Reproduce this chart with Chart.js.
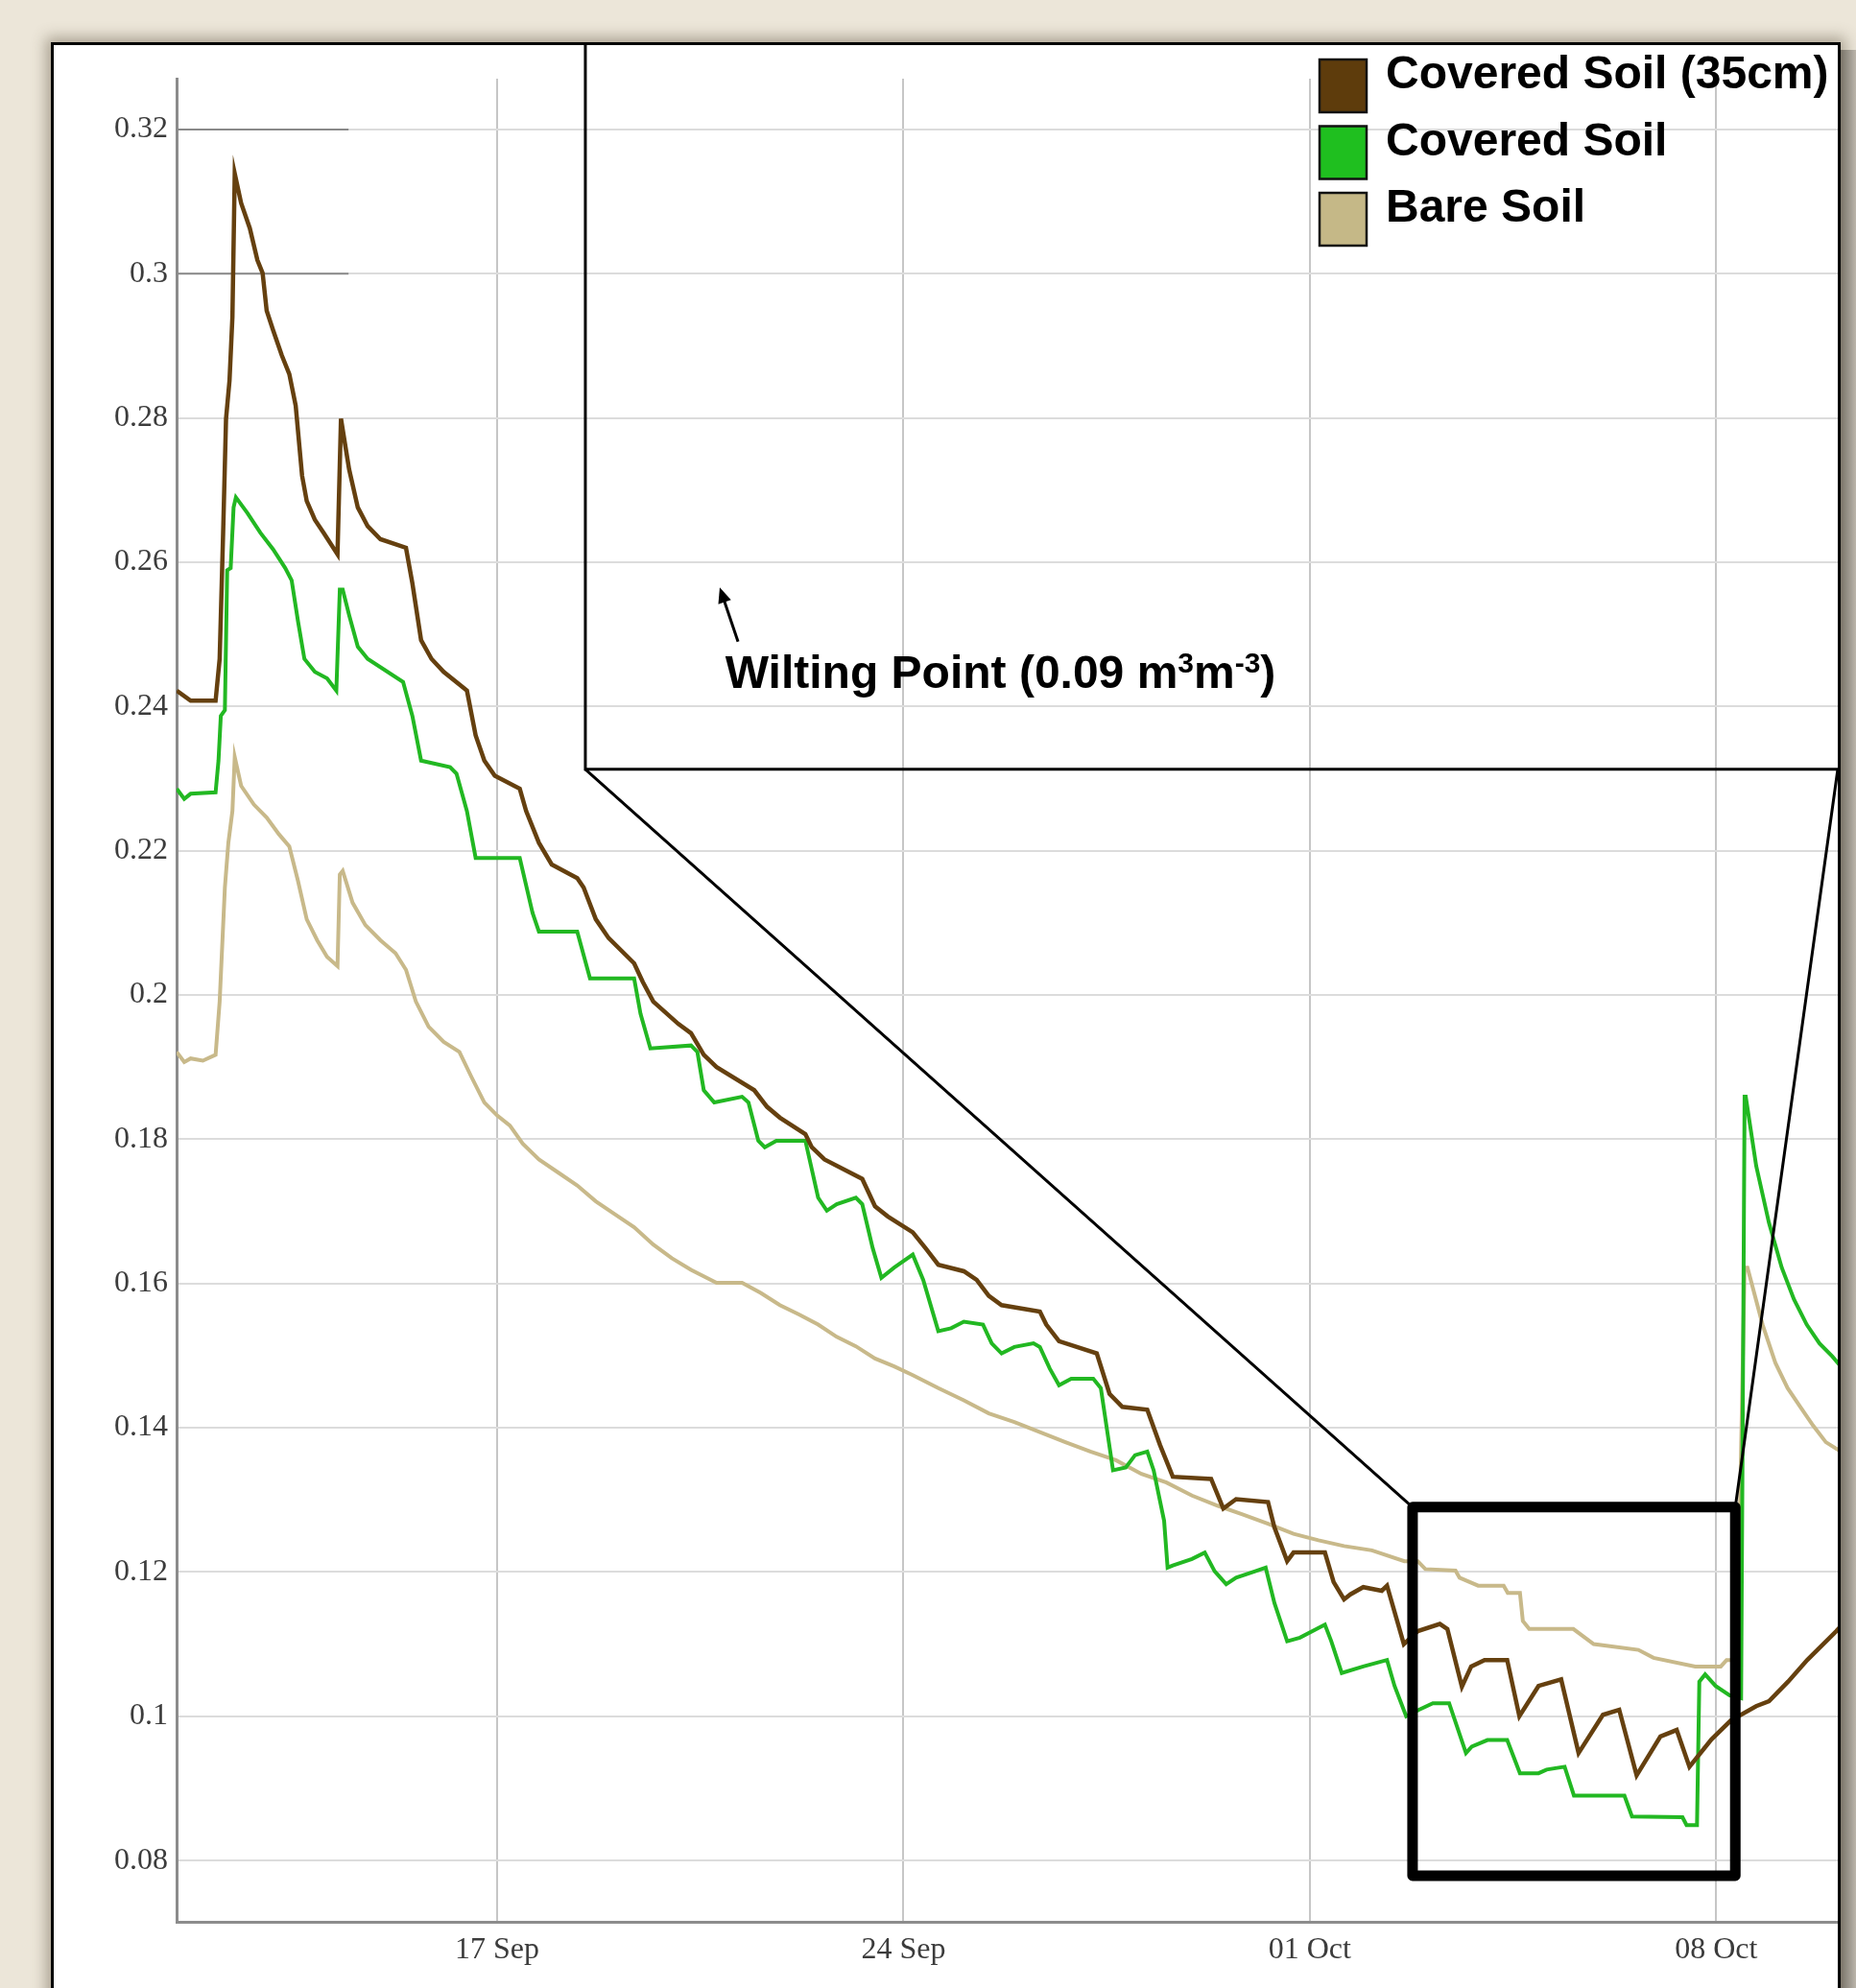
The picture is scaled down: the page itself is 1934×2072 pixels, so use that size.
<!DOCTYPE html>
<html>
<head>
<meta charset="utf-8">
<script src="https://cdn.jsdelivr.net/npm/chart.js@4.4.1/dist/chart.umd.min.js"></script>
<style>
  html, body { margin: 0; padding: 0; }
  body { width: 1934px; height: 2072px; overflow: hidden; background: #ece6d9; position: relative; }
  #frame {
    position: absolute; left: 53px; top: 44px; width: 1859px; height: 2100px;
    border: 3px solid #000; background: #fff;
    box-shadow: 0 0 14px 5px rgba(90, 80, 60, 0.45);
  }
  #edge {
    position: absolute; left: 1918px; top: 52px; width: 16px; height: 2030px;
    background: linear-gradient(to right, #8e8a83, #bdb8ae);
  }
  #soilChart { position: absolute; left: 0; top: 0; }
</style>
</head>
<body>
<div id="edge"></div>
<div id="frame"><canvas id="soilChart" width="1859" height="2025"></canvas></div>
<script>
document.addEventListener("DOMContentLoaded", function() {
    const seriesLabels = ['Covered Soil (35cm)', 'Covered Soil', 'Bare Soil'];
    const lineColors = ['#65400f', '#22b822', '#c8b98a'];
    const lineWidths = [4.5, 4, 4];
    const legendColors = ['#5e3c0c', '#1fbf1f', '#c5b887'];

    // x values are days counted from 1 Sep (01 Oct = 31)
    const xTickDays = [17, 24, 31, 38];
    const xTickLabels = ['17 Sep', '24 Sep', '01 Oct', '08 Oct'];
    const yTickValues = [0.08, 0.1, 0.12, 0.14, 0.16, 0.18, 0.2, 0.22, 0.24, 0.26, 0.28, 0.3, 0.32];

    const coveredSoil35 = [[11.48,0.2422],[11.72,0.2408],[12.15,0.2408],[12.22,0.2466],[12.28,0.2641],[12.33,0.2799],[12.39,0.2852],[12.44,0.2940],[12.48,0.3139],[12.59,0.3098],[12.74,0.3063],[12.87,0.3019],[12.96,0.3001],[13.03,0.2949],[13.14,0.2922],[13.29,0.2887],[13.42,0.2861],[13.53,0.2817],[13.64,0.2720],[13.72,0.2685],[13.86,0.2659],[14.01,0.2641],[14.25,0.2611],[14.31,0.2799],[14.45,0.2729],[14.60,0.2676],[14.77,0.2650],[14.99,0.2632],[15.43,0.2620],[15.54,0.2571],[15.69,0.2492],[15.87,0.2466],[16.08,0.2448],[16.48,0.2422],[16.63,0.2360],[16.78,0.2325],[16.96,0.2304],[17.39,0.2286],[17.50,0.2255],[17.72,0.2211],[17.94,0.2181],[18.38,0.2162],[18.49,0.2149],[18.70,0.2105],[18.92,0.2079],[19.36,0.2044],[19.51,0.2018],[19.69,0.1991],[20.12,0.1960],[20.34,0.1947],[20.56,0.1917],[20.78,0.1900],[21.43,0.1868],[21.65,0.1845],[21.87,0.1830],[22.31,0.1807],[22.42,0.1789],[22.64,0.1772],[23.29,0.1745],[23.51,0.1707],[23.73,0.1693],[24.16,0.1671],[24.38,0.1649],[24.60,0.1626],[25.04,0.1617],[25.26,0.1605],[25.47,0.1583],[25.69,0.1570],[26.35,0.1561],[26.46,0.1543],[26.68,0.1520],[27.33,0.1503],[27.55,0.1447],[27.77,0.1429],[28.20,0.1425],[28.42,0.1376],[28.64,0.1332],[29.30,0.1329],[29.51,0.1288],[29.73,0.1301],[30.28,0.1297],[30.39,0.1262],[30.61,0.1215],[30.72,0.1227],[31.26,0.1227],[31.41,0.1186],[31.59,0.1162],[31.70,0.1169],[31.92,0.1179],[32.24,0.1174],[32.33,0.1181],[32.62,0.1100],[32.86,0.1118],[33.24,0.1128],[33.37,0.1121],[33.62,0.1041],[33.78,0.1069],[34.01,0.1078],[34.40,0.1078],[34.61,0.1000],[34.94,0.1042],[35.33,0.1051],[35.63,0.0949],[36.05,0.1002],[36.33,0.1009],[36.63,0.0918],[37.04,0.0972],[37.32,0.0981],[37.54,0.0930],[37.92,0.0968],[38.25,0.0994],[38.69,0.1014],[38.91,0.1021],[39.24,0.1048],[39.57,0.1078],[40.07,0.1118],[40.15,0.1125]];

    const coveredSoil = [[11.48,0.2286],[11.61,0.2272],[11.72,0.2279],[12.15,0.2281],[12.20,0.2325],[12.24,0.2387],[12.31,0.2395],[12.35,0.2589],[12.41,0.2592],[12.46,0.2676],[12.50,0.2690],[12.70,0.2668],[12.92,0.2641],[13.14,0.2618],[13.35,0.2592],[13.46,0.2575],[13.57,0.2518],[13.68,0.2466],[13.86,0.2448],[14.07,0.2439],[14.23,0.2422],[14.29,0.2562],[14.34,0.2562],[14.45,0.2527],[14.60,0.2483],[14.77,0.2466],[15.38,0.2434],[15.54,0.2387],[15.69,0.2325],[16.19,0.2316],[16.30,0.2307],[16.48,0.2255],[16.63,0.2190],[17.39,0.2190],[17.61,0.2114],[17.72,0.2088],[18.38,0.2088],[18.60,0.2023],[19.36,0.2023],[19.47,0.1974],[19.64,0.1926],[20.34,0.1930],[20.45,0.1921],[20.56,0.1868],[20.74,0.1851],[21.22,0.1859],[21.33,0.1851],[21.50,0.1798],[21.61,0.1789],[21.81,0.1798],[22.31,0.1798],[22.53,0.1719],[22.68,0.1701],[22.85,0.1710],[23.18,0.1719],[23.29,0.1710],[23.47,0.1649],[23.62,0.1608],[23.84,0.1622],[24.16,0.1640],[24.34,0.1605],[24.60,0.1534],[24.82,0.1538],[25.04,0.1547],[25.37,0.1543],[25.52,0.1517],[25.69,0.1503],[25.91,0.1512],[26.24,0.1517],[26.35,0.1512],[26.52,0.1482],[26.68,0.1459],[26.89,0.1468],[27.27,0.1468],[27.40,0.1455],[27.61,0.1341],[27.83,0.1345],[27.99,0.1362],[28.20,0.1367],[28.31,0.1341],[28.49,0.1271],[28.55,0.1206],[28.64,0.1209],[28.97,0.1218],[29.19,0.1227],[29.36,0.1201],[29.56,0.1183],[29.73,0.1192],[30.06,0.1201],[30.24,0.1206],[30.39,0.1157],[30.61,0.1104],[30.83,0.1109],[31.26,0.1127],[31.37,0.1104],[31.55,0.1060],[31.92,0.1069],[32.33,0.1078],[32.46,0.1042],[32.66,0.1000],[32.88,0.1009],[33.12,0.1018],[33.40,0.1018],[33.69,0.0949],[33.79,0.0958],[34.06,0.0967],[34.40,0.0967],[34.62,0.0921],[34.94,0.0921],[35.08,0.0926],[35.39,0.0930],[35.55,0.0890],[36.42,0.0890],[36.55,0.0861],[37.42,0.0860],[37.49,0.0849],[37.67,0.0849],[37.71,0.1048],[37.81,0.1058],[37.99,0.1042],[38.23,0.1029],[38.43,0.1025],[38.49,0.1859],[38.51,0.1859],[38.69,0.1763],[38.91,0.1684],[39.13,0.1622],[39.34,0.1578],[39.56,0.1543],[39.78,0.1517],[40.00,0.1499],[40.15,0.1485]];

    const bareSoil = [[11.48,0.1921],[11.61,0.1907],[11.72,0.1912],[11.93,0.1909],[12.15,0.1917],[12.22,0.1991],[12.31,0.2149],[12.37,0.2211],[12.44,0.2255],[12.48,0.2330],[12.59,0.2290],[12.81,0.2264],[13.03,0.2246],[13.24,0.2223],[13.42,0.2206],[13.57,0.2158],[13.72,0.2105],[13.90,0.2076],[14.07,0.2053],[14.25,0.2040],[14.29,0.2167],[14.34,0.2172],[14.51,0.2128],[14.73,0.2097],[14.99,0.2076],[15.25,0.2058],[15.43,0.2035],[15.60,0.1991],[15.82,0.1956],[16.08,0.1935],[16.35,0.1921],[16.56,0.1886],[16.78,0.1851],[17.00,0.1833],[17.22,0.1819],[17.44,0.1794],[17.72,0.1772],[18.05,0.1754],[18.38,0.1736],[18.70,0.1714],[19.03,0.1696],[19.36,0.1678],[19.69,0.1654],[20.01,0.1635],[20.34,0.1619],[20.78,0.1601],[21.22,0.1601],[21.54,0.1587],[21.87,0.1570],[22.20,0.1557],[22.53,0.1543],[22.85,0.1526],[23.18,0.1513],[23.51,0.1496],[23.84,0.1485],[24.16,0.1473],[24.60,0.1455],[25.04,0.1438],[25.47,0.1420],[25.91,0.1408],[26.35,0.1394],[26.79,0.1380],[27.22,0.1367],[27.66,0.1355],[28.10,0.1336],[28.53,0.1324],[28.97,0.1306],[29.41,0.1292],[29.84,0.1280],[30.28,0.1267],[30.72,0.1253],[31.15,0.1244],[31.59,0.1236],[32.07,0.1230],[32.63,0.1215],[32.86,0.1215],[32.99,0.1204],[33.51,0.1202],[33.58,0.1192],[33.90,0.1181],[34.34,0.1181],[34.41,0.1171],[34.62,0.1171],[34.67,0.1132],[34.78,0.1121],[35.54,0.1121],[35.89,0.1100],[36.66,0.1092],[36.92,0.1081],[37.64,0.1069],[38.08,0.1069],[38.18,0.1078],[38.36,0.1078],[38.49,0.1622],[38.54,0.1622],[38.80,0.1543],[39.02,0.1490],[39.23,0.1455],[39.45,0.1429],[39.67,0.1403],[39.89,0.1380],[40.15,0.1367]];

    const seriesData = [coveredSoil35, coveredSoil, bareSoil];

    // annotation anchors, in axis units
    const inset = { left: 18.52, bottom: 0.2313 };
    const zoomBox = { left: 32.77, right: 38.33, top: 0.1290, bottom: 0.0779 };
    const arrow = { fromX: 21.15, fromY: 0.2490, toX: 20.835, toY: 0.2565 };
    const note = { x: 20.93, y: 0.2426 };
    const darkGridEnd = 14.44;

    const overlay = {
        id: 'overlay',
        beforeDatasetsDraw(chart) {
            // the two darker grid stubs next to the y axis at the top
            const c = chart.ctx, xs = chart.scales.x, ys = chart.scales.y;
            c.save();
            c.strokeStyle = '#8a8a8a';
            c.lineWidth = 2;
            [0.32, 0.3].forEach(v => {
                const py = ys.getPixelForValue(v);
                c.beginPath();
                c.moveTo(chart.chartArea.left, py);
                c.lineTo(xs.getPixelForValue(darkGridEnd), py);
                c.stroke();
            });
            c.restore();
        },
        afterDatasetsDraw(chart) {
            const ctx = chart.ctx;
            const xs = chart.scales.x, ys = chart.scales.y;
            const W = chart.width;
            ctx.save();
            ctx.strokeStyle = '#000';
            ctx.fillStyle = '#000';

            // big inset frame: only left and bottom edges are on the canvas
            const iL = xs.getPixelForValue(inset.left);
            const iB = ys.getPixelForValue(inset.bottom);
            ctx.lineWidth = 3;
            ctx.beginPath();
            ctx.moveTo(iL, 0);
            ctx.lineTo(iL, iB);
            ctx.lineTo(W, iB);
            ctx.stroke();

            const bL = xs.getPixelForValue(zoomBox.left), bR = xs.getPixelForValue(zoomBox.right);
            const bT = ys.getPixelForValue(zoomBox.top), bB = ys.getPixelForValue(zoomBox.bottom);

            ctx.beginPath();
            ctx.moveTo(iL, iB);
            ctx.lineTo(bL, bT);
            ctx.moveTo(W, iB);
            ctx.lineTo(bR, bT);
            ctx.stroke();

            ctx.lineWidth = 11;
            ctx.lineJoin = 'round';
            ctx.strokeRect(bL, bT, bR - bL, bB - bT);

            // arrow
            const ax1 = xs.getPixelForValue(arrow.fromX), ay1 = ys.getPixelForValue(arrow.fromY);
            const ax2 = xs.getPixelForValue(arrow.toX), ay2 = ys.getPixelForValue(arrow.toY);
            const ang = Math.atan2(ay2 - ay1, ax2 - ax1);
            ctx.lineWidth = 3;
            ctx.lineJoin = 'miter';
            ctx.beginPath();
            ctx.moveTo(ax1, ay1);
            ctx.lineTo(ax2 - 8 * Math.cos(ang), ay2 - 8 * Math.sin(ang));
            ctx.stroke();
            ctx.beginPath();
            ctx.moveTo(ax2, ay2);
            ctx.lineTo(ax2 - 16 * Math.cos(ang) + 7 * Math.sin(ang), ay2 - 16 * Math.sin(ang) - 7 * Math.cos(ang));
            ctx.lineTo(ax2 - 16 * Math.cos(ang) - 7 * Math.sin(ang), ay2 - 16 * Math.sin(ang) + 7 * Math.cos(ang));
            ctx.closePath();
            ctx.fill();

            // wilting point note with superscripts
            const big = 'bold 48px "Liberation Sans", Arial, sans-serif';
            const small = 'bold 30px "Liberation Sans", Arial, sans-serif';
            const parts = [['Wilting Point (0.09 m', big, 0], ['3', small, -16], ['m', big, 0], ['-3', small, -16], [')', big, 0]];
            let tx = xs.getPixelForValue(note.x);
            const ty = ys.getPixelForValue(note.y);
            ctx.textBaseline = 'alphabetic';
            ctx.textAlign = 'left';
            parts.forEach(p => {
                ctx.font = p[1];
                ctx.fillText(p[0], tx, ty + p[2]);
                tx += ctx.measureText(p[0]).width;
            });

            // legend
            ctx.font = big;
            const lx = chart.chartArea.right - 540;
            seriesLabels.forEach((label, i) => {
                const top = 15 + i * 69.5;
                ctx.fillStyle = legendColors[i];
                ctx.fillRect(lx, top, 49, 55);
                ctx.lineWidth = 2.5;
                ctx.strokeStyle = '#111';
                ctx.strokeRect(lx, top, 49, 55);
                ctx.fillStyle = '#000';
                ctx.fillText(label, lx + 69, top + 30);
            });
            ctx.restore();
        }
    };

    const ctx = document.getElementById('soilChart').getContext('2d');
    new Chart(ctx, {
        type: 'line',
        data: {
            datasets: seriesLabels.map((label, i) => ({
                label: label,
                data: seriesData[i].map(p => ({ x: p[0], y: p[1] })),
                borderColor: lineColors[i],
                borderWidth: lineWidths[i],
                pointRadius: 0,
                tension: 0,
                fill: false
            }))
        },
        options: {
            responsive: false,
            animation: false,
            layout: { padding: { top: 35, right: 0, left: 0, bottom: 0 } },
            scales: {
                x: {
                    type: 'linear',
                    min: 11.478,
                    max: 40.095,
                    afterBuildTicks: axis => { axis.ticks = xTickDays.map(v => ({ value: v })); },
                    afterFit: axis => { axis.height = 69; },
                    grid: { color: '#c6c6c6', lineWidth: 2, drawTicks: false },
                    border: { color: '#8c8c8c', width: 3 },
                    ticks: {
                        autoSkip: false,
                        maxRotation: 0,
                        padding: 10,
                        color: '#3c3c3c',
                        font: { family: '"Liberation Serif", "Times New Roman", serif', size: 32 },
                        callback: value => xTickLabels[xTickDays.indexOf(value)]
                    }
                },
                y: {
                    min: 0.0715,
                    max: 0.32705,
                    afterBuildTicks: axis => { axis.ticks = yTickValues.map(v => ({ value: v })); },
                    afterFit: axis => { axis.width = 128; },
                    grid: { color: '#dcdcdc', lineWidth: 2, drawTicks: false },
                    border: { color: '#8c8c8c', width: 3 },
                    ticks: {
                        autoSkip: false,
                        padding: 9,
                        color: '#3c3c3c',
                        font: { family: '"Liberation Serif", "Times New Roman", serif', size: 32 },
                        callback: value => String(parseFloat(value.toFixed(2)))
                    }
                }
            },
            plugins: {
                legend: { display: false },
                tooltip: { enabled: false }
            }
        },
        plugins: [overlay]
    });
});
</script>
</body>
</html>
